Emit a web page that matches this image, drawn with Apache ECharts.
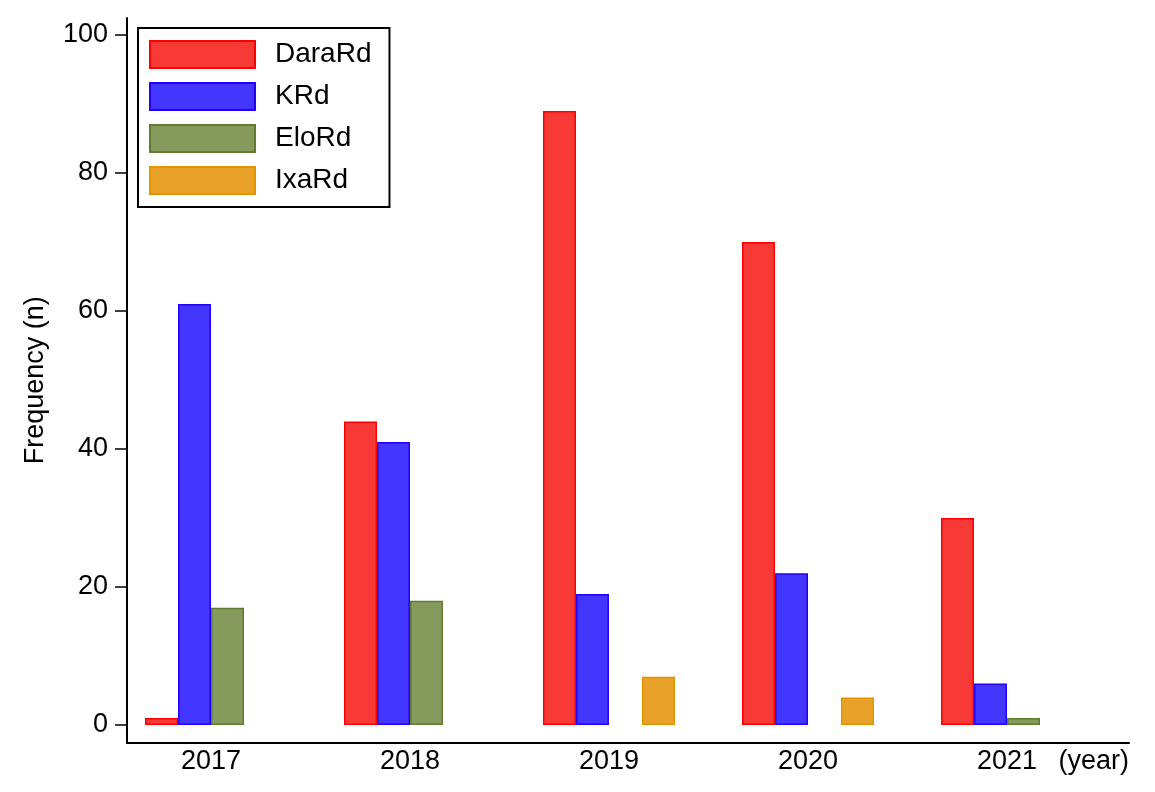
<!DOCTYPE html>
<html>
<head>
<meta charset="utf-8">
<script src="https://cdn.jsdelivr.net/npm/echarts@6/dist/echarts.min.js"></script>
<style>html,body{margin:0;padding:0;background:#fff}#c{width:1155px;height:792px}</style>
</head>
<body>
<div id="c"></div>
<script>
const years = [2017, 2018, 2019, 2020, 2021];
const daraRd = [1, 44, 89, 70, 30];
const kRd = [61, 41, 19, 22, 6];
const eloRd = [17, 18, 0, 0, 1];
const ixaRd = [0, 0, 7, 4, 0];
const yTicks = [0, 20, 40, 60, 80, 100];

const FONT = 'Liberation Sans, Arial, sans-serif';
const chart = echarts.init(document.getElementById('c'), null, {renderer: 'canvas'});

function pts(vals) {
  return years.map((y, i) => [y, vals[i]]).filter(p => p[1] > 0);
}
function bar(name, vals, fill, border) {
  return {
    name: name, type: 'bar', data: pts(vals),
    barWidth: 33, barGap: '0%',
    itemStyle: {color: fill, borderColor: border, borderWidth: 1.5},
    emphasis: {disabled: true}
  };
}

chart.setOption({
  animation: false,
  backgroundColor: '#fff',
  textStyle: {fontFamily: FONT},
  grid: {left: 127, right: 26, top: 18, bottom: 49.5},
  legend: {
    orient: 'vertical', left: 138, top: 28,
    padding: [12, 18, 12, 11],
    itemWidth: 105, itemHeight: 27, itemGap: 13,
    borderColor: '#000', borderWidth: 2, backgroundColor: '#fff',
    icon: 'rect',
    textStyle: {fontSize: 28, color: '#000', fontFamily: FONT, lineHeight: 28, padding: [0, 0, 0, 15]},
    data: ['DaraRd', 'KRd', 'EloRd', 'IxaRd']
  },
  xAxis: {
    type: 'value', min: 2016.5779, max: 2021.6131,
    axisLine: {show: true, onZero: false, lineStyle: {color: '#000', width: 2}},
    axisTick: {show: false},
    splitLine: {show: false},
    axisLabel: {customValues: years, fontSize: 27, color: '#000', margin: 6, formatter: v => String(v)},
    name: '(year)', nameLocation: 'end', nameGap: 0,
    nameTextStyle: {fontSize: 27, color: '#000', align: 'right', verticalAlign: 'top', padding: [6, 0, 0, 0]}
  },
  yAxis: {
    type: 'value', min: -2.536, max: 102.46,
    axisLine: {show: true, onZero: false, lineStyle: {color: '#000', width: 2}},
    axisTick: {show: true, customValues: yTicks, length: 12, lineStyle: {color: '#000', width: 1.5}},
    splitLine: {show: false},
    axisLabel: {customValues: yTicks, fontSize: 27, color: '#000', margin: 19},
    name: 'Frequency (n)', nameLocation: 'middle', nameRotate: 90, nameGap: 78,
    nameTextStyle: {fontSize: 27, color: '#000'}
  },
  series: [
    bar('DaraRd', daraRd, '#F83A36', '#FF0000'),
    bar('KRd', kRd, '#4236FF', '#2200FF'),
    bar('EloRd', eloRd, '#869A5E', '#5E7D30'),
    bar('IxaRd', ixaRd, '#E8A22A', '#E59400')
  ]
});
</script>
</body>
</html>
